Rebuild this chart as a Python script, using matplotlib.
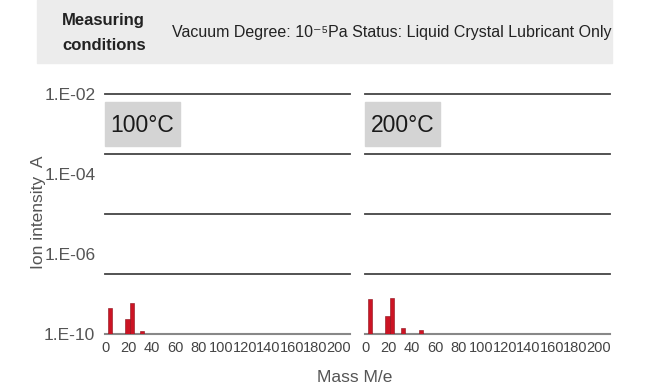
import numpy as np
import matplotlib.pyplot as plt
from matplotlib.patches import Rectangle

plt.rcParams['font.family'] = ['Liberation Sans', 'DejaVu Sans']

# data
temps = ["100°C", "200°C"]
mass_100 = [4, 19.3, 22.8, 32]
ion_100 = [10**-9.13, 10**-9.5, 10**-8.97, 10**-9.9]
mass_200 = [4, 19.3, 22.8, 32.6, 48]
ion_200 = [10**-8.83, 10**-9.4, 10**-8.8, 10**-9.8, 10**-9.87]
x_ticks = list(range(0, 201, 20))
y_labels = ["1.E-02", "1.E-04", "1.E-06", "1.E-10"]
grid_levels = [1e-2, 1e-4, 1e-6, 1e-8]

W, H = 646, 392
fig = plt.figure(figsize=(W / 100, H / 100), dpi=100)

# header box
fig.patches.append(Rectangle((37 / W, 1 - 63 / H), (612 - 37) / W, 63 / H,
                             transform=fig.transFigure, color='#ececec', zorder=0))
fig.text(62 / W, 1 - 20 / H, "Measuring", fontsize=12, fontweight='bold', color='#222', va='center')
fig.text(62 / W, 1 - 45 / H, "conditions", fontsize=12, fontweight='bold', color='#222', va='center')
fig.text(172 / W, 1 - 33 / H,
         "Vacuum Degree: 10⁻⁵Pa Status: Liquid Crystal Lubricant Only",
         fontsize=11.5, color='#222', va='center')

red = '#cc1424'
panels = [(105, mass_100, ion_100), (365, mass_200, ion_200)]
for i, (left, m, v) in enumerate(panels):
    ax = fig.add_axes([left / W, (H - 334) / H, 245 / W, 240 / H])
    ax.set_yscale('log')
    ax.set_ylim(1e-10, 1e-2)
    ax.set_xlim(0, 210)
    ax.bar(m, np.array(v) - 1e-10, bottom=1e-10, width=3.6, color=red,
           edgecolor='#8a0d18', linewidth=0.4, zorder=3)
    for g in grid_levels:
        ax.axhline(g, color='#444', lw=1.3, zorder=1, clip_on=False)
    for s in ['top', 'right', 'left']:
        ax.spines[s].set_visible(False)
    ax.spines['bottom'].set_color('#888')
    ax.spines['bottom'].set_linewidth(1.5)
    ax.set_xticks(x_ticks)
    ax.set_xticklabels([str(t) for t in x_ticks], fontsize=10.5, color='#444')
    ax.tick_params(axis='x', length=0, pad=5)
    ax.minorticks_off()
    if i == 0:
        ax.set_yticks([1e-2, 10**(-4 - 2 / 3), 10**(-7 - 1 / 3), 1e-10])
        ax.set_yticklabels(y_labels, fontsize=12.5, color='#555')
        ax.tick_params(axis='y', length=0, pad=7)
    else:
        ax.set_yticks([])
    ax.tick_params(axis='y', which='minor', length=0)
    # temperature tag
    fig.patches.append(Rectangle((left / W, 1 - 146 / H), 75 / W, 44 / H,
                                 transform=fig.transFigure, color='#d4d4d4', zorder=2))
    fig.text((left + 37.5) / W, 1 - 125 / H, temps[i], fontsize=16.5, color='#1a1a1a',
             ha='center', va='center')

fig.text(38 / W, 1 - 212 / H, "Ion intensity  A", rotation=90, fontsize=12.5,
         color='#555', ha='center', va='center')
fig.text(355 / W, 1 - 378 / H, "Mass M/e", fontsize=12.5, color='#555',
         ha='center', va='center')

fig.savefig("out.png", dpi=100)
